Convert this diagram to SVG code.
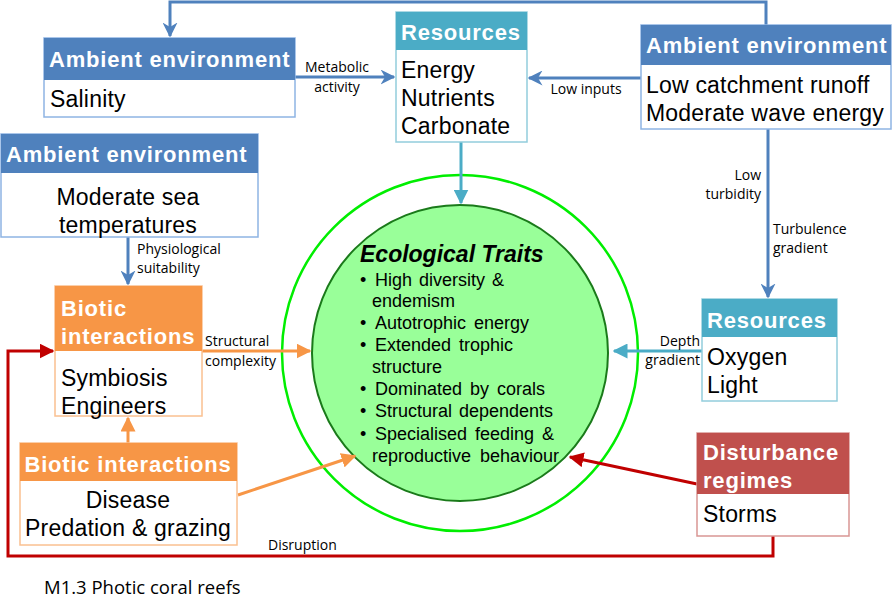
<svg xmlns="http://www.w3.org/2000/svg" width="892" height="610" viewBox="0 0 892 610">
<style>
  .hdr { font-family: "Liberation Sans", Arial, sans-serif; font-weight: bold; font-size: 22px; letter-spacing: 0.8px; fill: #ffffff; }
  .body { font-family: "Liberation Sans", Arial, sans-serif; font-size: 23px; letter-spacing: 0.2px; fill: #000000; }
  .lbl { font-family: "Open Sans", "Noto Sans", sans-serif; font-size: 14px; fill: #000000; }
  .trait { font-family: "Liberation Sans", Arial, sans-serif; font-size: 18px; fill: #000000; }
  .amb-h { fill: #4F81BD; }
  .amb-b { fill: #ffffff; stroke: #8EB4E3; stroke-width: 1.5; }
  .res-h { fill: #4BACC6; }
  .res-b { fill: #ffffff; stroke: #92CDDC; stroke-width: 1.5; }
  .bio-h { fill: #F79646; }
  .bio-b { fill: #ffffff; stroke: #FAC090; stroke-width: 1.5; }
  .dis-h { fill: #C0504D; }
  .dis-b { fill: #ffffff; stroke: #D99694; stroke-width: 1.5; }
  .c-blue { stroke: #4F81BD; stroke-width: 3; fill: none; }
  .c-teal { stroke: #4BACC6; stroke-width: 3; fill: none; }
  .c-orange { stroke: #F79646; stroke-width: 3; fill: none; }
  .c-red { stroke: #C00000; stroke-width: 3; fill: none; }
</style>
<defs>
  <marker id="ah-blue" viewBox="0 0 10 10" refX="9" refY="5" markerWidth="5" markerHeight="5" orient="auto" markerUnits="strokeWidth">
    <path d="M0,0 L10,5 L0,10 L3,5 Z" fill="#4F81BD"/>
  </marker>
  <marker id="ah-teal" viewBox="0 0 10 10" refX="9" refY="5" markerWidth="5" markerHeight="5" orient="auto" markerUnits="strokeWidth">
    <path d="M0,0 L10,5 L0,10 Z" fill="#4BACC6"/>
  </marker>
  <marker id="ah-orange" viewBox="0 0 10 10" refX="9" refY="5" markerWidth="5" markerHeight="5" orient="auto" markerUnits="strokeWidth">
    <path d="M0,0 L10,5 L0,10 Z" fill="#F79646"/>
  </marker>
  <marker id="ah-red" viewBox="0 0 10 10" refX="9" refY="5" markerWidth="5" markerHeight="5" orient="auto" markerUnits="strokeWidth">
    <path d="M0,0 L10,5 L0,10 Z" fill="#C00000"/>
  </marker>
</defs>
<rect width="892" height="610" fill="#ffffff"/>

<!-- central traits circles -->
<g id="traits">
  <circle cx="460" cy="353" r="178" fill="none" stroke="#00EE00" stroke-width="2.5"/>
  <circle cx="460" cy="353" r="148" fill="#99FF99" stroke="#1A7A1A" stroke-width="2"/>
  <text x="360" y="262" font-family="Liberation Sans, Arial, sans-serif" font-size="23" font-weight="bold" font-style="italic">Ecological Traits</text>
  <g class="trait">
    <text x="360" y="286">•</text><text x="375" y="286" word-spacing="2">High diversity &amp;</text>
    <text x="372" y="307">endemism</text>
    <text x="360" y="329">•</text><text x="375" y="329" word-spacing="3">Autotrophic energy</text>
    <text x="360" y="351">•</text><text x="375" y="351" word-spacing="3">Extended trophic</text>
    <text x="372" y="373">structure</text>
    <text x="360" y="395">•</text><text x="375" y="395" word-spacing="3">Dominated by corals</text>
    <text x="360" y="417">•</text><text x="375" y="417" word-spacing="2">Structural dependents</text>
    <text x="360" y="440">•</text><text x="375" y="440" word-spacing="3">Specialised feeding &amp;</text>
    <text x="372" y="462" word-spacing="4">reproductive behaviour</text>
  </g>
</g>

<!-- connectors -->
<g id="connectors">
  <polyline class="c-blue" points="766,25 766,2 170,2 170,36" marker-end="url(#ah-blue)"/>
  <line class="c-blue" x1="295" y1="77" x2="394" y2="77" marker-end="url(#ah-blue)"/>
  <line class="c-blue" x1="641" y1="78" x2="529" y2="78" marker-end="url(#ah-blue)"/>
  <line class="c-blue" x1="768" y1="129" x2="768" y2="297" marker-end="url(#ah-blue)"/>
  <line class="c-blue" x1="128" y1="237" x2="128" y2="284" marker-end="url(#ah-blue)"/>
  <line class="c-teal" x1="461" y1="142" x2="461" y2="203" marker-end="url(#ah-teal)"/>
  <line class="c-teal" x1="702" y1="351" x2="614" y2="351" marker-end="url(#ah-teal)"/>
  <line class="c-orange" x1="202" y1="351" x2="310" y2="351" marker-end="url(#ah-orange)"/>
  <line class="c-orange" x1="128" y1="443" x2="128" y2="418" marker-end="url(#ah-orange)"/>
  <line class="c-orange" x1="238" y1="495" x2="355" y2="456" marker-end="url(#ah-orange)"/>
  <line class="c-red" x1="697" y1="484" x2="570" y2="457" marker-end="url(#ah-red)"/>
  <polyline class="c-red" points="773,536 773,556 8,556 8,351 53,351" marker-end="url(#ah-red)"/>

  <g class="lbl">
    <text x="337" y="72" text-anchor="middle">Metabolic</text>
    <text x="337" y="92" text-anchor="middle">activity</text>
    <text x="586" y="94" text-anchor="middle">Low inputs</text>
    <text x="761" y="180" text-anchor="end">Low</text>
    <text x="761" y="199" text-anchor="end">turbidity</text>
    <text x="773" y="234">Turbulence</text>
    <text x="773" y="253">gradient</text>
    <text x="700" y="346" text-anchor="end">Depth</text>
    <text x="700" y="365" text-anchor="end">gradient</text>
    <text x="137" y="254">Physiological</text>
    <text x="137" y="273">suitability</text>
    <text x="205" y="346">Structural</text>
    <text x="205" y="366">complexity</text>
    <text x="268" y="550">Disruption</text>
  </g>
</g>

<!-- node boxes -->
<g id="amb-salinity">
  <rect class="amb-b" x="44" y="38" width="251" height="79"/>
  <rect class="amb-h" x="44" y="38" width="251" height="42"/>
  <text class="hdr" x="49" y="67">Ambient environment</text>
  <text class="body" x="50" y="107">Salinity</text>
</g>

<g id="res-energy">
  <rect class="res-b" x="396" y="12" width="131" height="130"/>
  <rect class="res-h" x="396" y="12" width="131" height="38"/>
  <text class="hdr" x="401" y="40">Resources</text>
  <text class="body" x="401" y="78">Energy</text>
  <text class="body" x="401" y="106">Nutrients</text>
  <text class="body" x="401" y="134">Carbonate</text>
</g>

<g id="amb-runoff">
  <rect class="amb-b" x="641" y="25" width="250" height="104"/>
  <rect class="amb-h" x="641" y="25" width="250" height="40"/>
  <text class="hdr" x="646" y="53">Ambient environment</text>
  <text class="body" x="646" y="93">Low catchment runoff</text>
  <text class="body" x="646" y="121">Moderate wave energy</text>
</g>

<g id="amb-temp">
  <rect class="amb-b" x="1" y="134" width="257" height="103"/>
  <rect class="amb-h" x="1" y="134" width="257" height="39"/>
  <text class="hdr" x="6" y="162">Ambient environment</text>
  <text class="body" x="128" y="205" text-anchor="middle">Moderate sea</text>
  <text class="body" x="128" y="233" text-anchor="middle">temperatures</text>
</g>

<g id="res-oxygen">
  <rect class="res-b" x="702" y="299" width="135" height="102"/>
  <rect class="res-h" x="702" y="299" width="135" height="38"/>
  <text class="hdr" x="707" y="328">Resources</text>
  <text class="body" x="707" y="365">Oxygen</text>
  <text class="body" x="707" y="393">Light</text>
</g>

<g id="bio-symbiosis">
  <rect class="bio-b" x="55" y="286" width="147" height="130"/>
  <rect class="bio-h" x="55" y="286" width="147" height="65"/>
  <text class="hdr" x="61" y="316">Biotic</text>
  <text class="hdr" x="61" y="344">interactions</text>
  <text class="body" x="61" y="386">Symbiosis</text>
  <text class="body" x="61" y="414">Engineers</text>
</g>

<g id="bio-disease">
  <rect class="bio-b" x="20" y="443" width="217" height="102"/>
  <rect class="bio-h" x="20" y="443" width="217" height="38"/>
  <text class="hdr" x="128" y="472" text-anchor="middle">Biotic interactions</text>
  <text class="body" x="128" y="508" text-anchor="middle">Disease</text>
  <text class="body" x="128" y="536" text-anchor="middle">Predation &amp; grazing</text>
</g>

<g id="dist-storms">
  <rect class="dis-b" x="697" y="433" width="152" height="103"/>
  <rect class="dis-h" x="697" y="433" width="152" height="61"/>
  <text class="hdr" x="703" y="460">Disturbance</text>
  <text class="hdr" x="703" y="488">regimes</text>
  <text class="body" x="703" y="522">Storms</text>
</g>

<text x="44" y="594" font-family="Open Sans, Noto Sans, sans-serif" font-size="18.5">M1.3 Photic coral reefs</text>
</svg>
